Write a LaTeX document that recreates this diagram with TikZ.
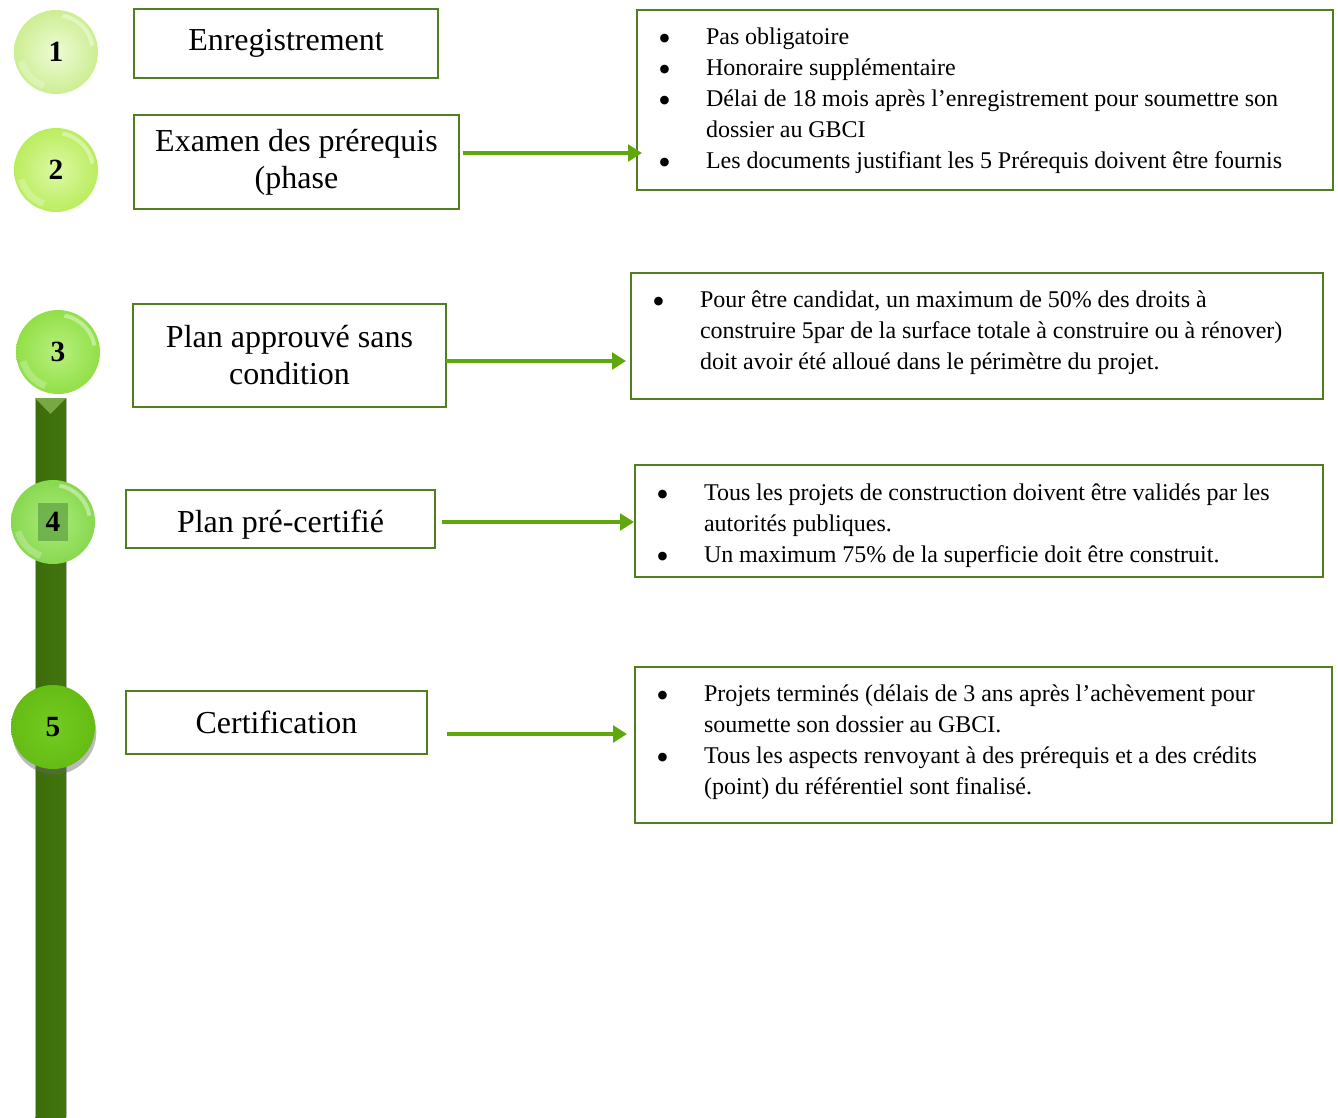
\documentclass[tikz,border=0pt]{standalone}
\usepackage{fontspec}
\setmainfont{Liberation Serif}
\newfontfamily\dotfont{DejaVu Sans}
\usetikzlibrary{arrows.meta,shadows,calc}

\definecolor{boxline}{HTML}{517E1F}
\definecolor{arrowgreen}{HTML}{5FA70B}
\definecolor{barL}{HTML}{3C6C0B}
\definecolor{barM}{HTML}{588E1D}
\definecolor{barR}{HTML}{42750E}
\definecolor{barTip}{HTML}{78A845}
\definecolor{ballAin}{HTML}{EEFBD6}
\definecolor{ballAout}{HTML}{CCEE92}
\definecolor{ballBin}{HTML}{DDF8A6}
\definecolor{ballBout}{HTML}{BAED5E}
\definecolor{ballCin}{HTML}{B8F07E}
\definecolor{ballCout}{HTML}{92DF48}
\definecolor{ballDin}{HTML}{ABEC7C}
\definecolor{ballDout}{HTML}{88D84F}
\definecolor{ballEin}{HTML}{74CC22}
\definecolor{ballEout}{HTML}{64BC14}
\definecolor{squareD}{HTML}{6CAE4A}

% bullet lines with hanging indent, kept on one line each
\newcommand\bdot{\raisebox{2.3pt}{\dotfont\fontsize{8.5pt}{8.5pt}\selectfont ●}}
\newcommand\bitem[1]{\mbox{\makebox[35.25pt][l]{\hspace*{0.4pt}\bdot}#1}}
\newcommand\bcont[1]{\mbox{\hspace*{35.25pt}#1}}
\newlength\notespace
\setlength\notespace{4.4pt}

\begin{document}
\begin{tikzpicture}[x=0.75pt,y=-0.75pt,
  stagebox/.style={draw=boxline, line width=2pt, fill=white, inner sep=0pt,
    outer sep=0pt, align=center, font=\fontsize{24pt}{27.75pt}\selectfont},
  notebox/.style={draw=boxline, line width=2pt, fill=white, inner xsep=16.5pt,
    inner ysep=0pt, outer sep=0pt, align=left,
    font=\fontsize{18pt}{23.25pt}\selectfont,
    execute at begin node={\spaceskip=\notespace}},
  link/.style={draw=arrowgreen, line width=3pt,
    -{Triangle[length=10.5pt,width=12.5pt]}},
  ball/.style={circle, minimum size=63pt, inner sep=0pt,
    font=\fontsize{22pt}{22pt}\selectfont\bfseries},
  gloss/.style={white, line width=3pt, opacity=.4},
]
\useasboundingbox (0,0) rectangle (1338,1117);

% vertical timeline bar
\shade[left color=barL, middle color=barM, right color=barR]
  (35,398) rectangle (66,1117);
\draw[black!30, line width=0.6pt] (35,1117) -- (35,398) -- (66,398) -- (66,1117);
\fill[barTip] (35,398) -- (66,398) -- (50.5,414) -- cycle;

% numbered stage markers
\node[ball, inner color=ballAin, outer color=ballAout] (c1) at (56,52) {1};
\node[ball, inner color=ballBin, outer color=ballBout] (c2) at (56,170) {2};
\node[ball, inner color=ballCin, outer color=ballCout] (c3) at (58,352) {3};
\node[ball, inner color=ballDin, outer color=ballDout,
  path picture={\fill[squareD, opacity=.9]
    ([shift={(-15,-19)}]path picture bounding box.center) rectangle
    ([shift={(15,19)}]path picture bounding box.center);}] (c4) at (53,522) {4};
\node[ball, inner color=ballEin, outer color=ballEout,
  drop shadow={shadow xshift=1pt, shadow yshift=-4pt, fill=black!60, opacity=.45}]
  (c5) at (53,727) {5};

% glossy highlights on the light markers
\foreach \n in {c1,c2,c3,c4} {
  \begin{scope}
    \clip (\n.center) circle[radius=42];
    \draw[gloss] (\n.center) ++(-80:37) arc[start angle=-80, end angle=-10, radius=37];
    \draw[gloss, opacity=.25, line width=5pt] (\n.center) ++(110:36) arc[start angle=110, end angle=165, radius=36];
  \end{scope}
}

% stage boxes
\node[stagebox, minimum width=228pt, minimum height=51.75pt] (b1) at (286,43.5) {Enregistrement};
\node[stagebox, minimum width=243.75pt, minimum height=70.5pt] (b2) at (296.5,162) {Examen des prérequis\\(phase};
\node[stagebox, minimum width=234.75pt, minimum height=77.25pt] (b3) at (289.5,355.5) {Plan approuvé sans\\condition};
\node[stagebox, minimum width=231.75pt, minimum height=43.5pt] (b4) at (280.5,519) {\rule{0pt}{25pt}Plan pré-certifié};
\node[stagebox, minimum width=225.75pt, minimum height=47.25pt] (b5) at (276.5,722.5) {Certification};

% detail boxes
\node[notebox, text width=489pt, minimum width=522pt, minimum height=135pt] (r1) at (985,100) {%
\rule{0pt}{14pt}\bitem{Pas obligatoire}\\
\bitem{Honoraire supplémentaire}\\
\bitem{Délai de 18 mois après l’enregistrement pour soumettre son}\\
\bcont{dossier au GBCI}\\
\bitem{Les documents justifiant les 5 Prérequis doivent être fournis}};

\node[notebox, text width=486pt, minimum width=519pt, minimum height=94.5pt] (r2) at (977,336) {%
\bitem{Pour être candidat, un maximum de 50\% des droits à}\\
\bcont{construire 5par de la surface totale à construire ou à rénover)}\\
\bcont{doit avoir été alloué dans le périmètre du projet.}\rule[-8.4pt]{0pt}{1pt}};

\node[notebox, text width=483pt, minimum width=516pt, minimum height=84pt] (r3) at (979,521) {%
\rule{0pt}{19.5pt}\bitem{Tous les projets de construction doivent être validés par les}\\
\bcont{autorités publiques.}\\
\bitem{Un maximum 75\% de la superficie doit être construit.}};

\node[notebox, text width=489.75pt, minimum width=522.75pt, minimum height=117pt] (r4) at (983.5,745) {%
\rule{0pt}{13pt}\bitem{Projets terminés (délais de 3 ans après l’achèvement pour}\\
\bcont{soumette son dossier au GBCI.}\\
\bitem{Tous les aspects renvoyant à des prérequis et a des crédits}\\
\bcont{(point) du référentiel sont finalisé.}\rule[-8pt]{0pt}{1pt}};

% connectors
\coordinate (a2s) at ([shift={(4,-9)}]b2.east);
\draw[link, shorten >=-3.75pt] (a2s) -- (a2s -| r1.west);
\coordinate (a3s) at ([shift={(0,5.5)}]b3.east);
\draw[link, shorten >=3.75pt] (a3s) -- (a3s -| r2.west);
\coordinate (a4s) at ([shift={(7,3)}]b4.east);
\draw[link, shorten >=0.75pt] (a4s) -- (a4s -| r3.west);
\coordinate (a5s) at ([shift={(20,11.5)}]b5.east);
\draw[link, shorten >=6pt] (a5s) -- (a5s -| r4.west);
\end{tikzpicture}
\end{document}
